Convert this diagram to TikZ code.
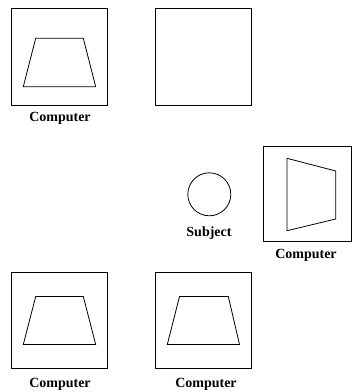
\documentclass[tikz,border=0pt]{standalone}
\usepackage{fontspec}
\setmainfont{Liberation Serif}
\begin{document}
\begin{tikzpicture}[x=1pt,y=-1pt,line width=0.8pt,
  screenbox/.style={draw,rectangle,inner sep=0pt,minimum width=95.5pt,minimum height=96.5pt},
  lbl/.style={font=\fontsize{14}{16}\selectfont\bfseries,inner sep=0pt}]
\useasboundingbox (0,0) rectangle (354,392);
% top left computer
\node[screenbox] (b1) at (59.25,56.7) {};
\draw (35.7,38.3) -- (83.3,38.3) -- (95.7,86.7) -- (23.3,86.7) -- cycle;
\node[lbl] (l1) at (60,118) {Computer};
% top middle box
\node[screenbox] (b2) at (203.6,56.7) {};
% subject
\node[draw,circle,minimum size=43pt,inner sep=0pt] (subj) at (209.3,194.3) {};
\node[lbl] (ls) at (209,233) {Subject};
% right computer
\node[screenbox,minimum width=88.7pt,minimum height=95pt] (b5) at (307.3,194.2) {};
\draw (287,158.3) -- (335.7,171) -- (335.7,219) -- (287,230.7) -- cycle;
\node[lbl] (l5) at (306,255) {Computer};
% bottom left computer
\node[screenbox] (b3) at (59.25,320.6) {};
\draw (35.7,296.5) -- (83.3,296.5) -- (95.7,344.5) -- (23.3,344.5) -- cycle;
\node[lbl] (l3) at (60,384) {Computer};
% bottom middle computer
\node[screenbox] (b4) at (203.4,320.6) {};
\draw (179.5,296.5) -- (228.3,296.5) -- (239.5,344.5) -- (167.3,344.5) -- cycle;
\node[lbl] (l4) at (206,384) {Computer};
\end{tikzpicture}
\end{document}
